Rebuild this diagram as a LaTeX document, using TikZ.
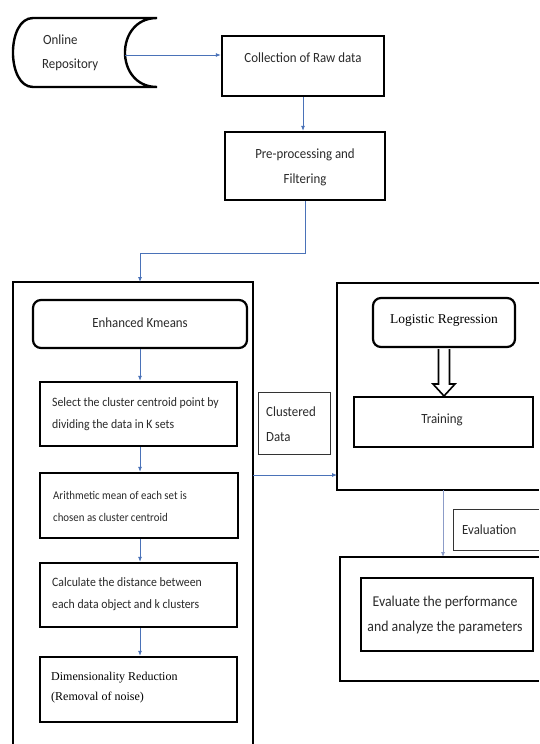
\documentclass[tikz,border=0pt]{standalone}
\usepackage{fontspec}
\setmainfont{Carlito}[FakeStretch=0.92]
\newfontfamily\timesf{Liberation Serif}
\usetikzlibrary{arrows.meta}
\definecolor{conblue}{HTML}{4A72B8}
\definecolor{conlight}{HTML}{8C9CC8}
\definecolor{txt}{HTML}{2A2A2A}
\begin{document}
\begin{tikzpicture}[x=1pt,y=-1pt,
  box/.style={draw=black, line width=2.4pt, rectangle, inner sep=0pt},
  rbox/.style={draw=black, line width=2.2pt, rectangle, rounded corners=8pt, inner sep=0pt},
  thinbox/.style={draw=black!80, line width=0.9pt, rectangle, inner sep=0pt},
  frame/.style={draw=black, line width=2.4pt},
  conn/.style={draw=conblue, line width=0.8pt, -{Latex[length=5pt,width=4pt]}},
  lbl/.style={text=txt, inner sep=0pt, font=\fontsize{14}{22}\selectfont},
  slbl/.style={text=txt, inner sep=0pt, anchor=west, align=left, font=\fontsize{12.8}{22}\selectfont},
  tlbl/.style={text=txt, inner sep=0pt, font=\timesf\fontsize{13.5}{20}\selectfont}
]
\useasboundingbox[fill=white] (0,0) rectangle (539,744);

% Online repository (stored data symbol)
\draw[line width=2.4pt] (33,18) -- (157,18) .. controls (114.3,18) and (114.3,87) .. (157,87)
  -- (33,87) .. controls (6.3,87) and (6.3,18) .. (33,18) -- cycle;
\coordinate (repoR) at (125,55);
\node[lbl, anchor=west] (online) at (43,40) {Online};
\node[lbl, anchor=west] (repo) at (42,65) {Repository};

% Collection of raw data
\node[box, minimum width=162, minimum height=60] (coll) at (303,66) {};
\node[lbl] (colltxt) at (303,58) {Collection of Raw data};
\draw[conn] (repoR) -- (repoR -| coll.west);

% Pre-processing
\node[box, minimum width=160, minimum height=68] (pre) at (305,166) {};
\node[lbl, align=center, font=\fontsize{14}{25}\selectfont] (pretxt) at (305,167.5) {Pre-processing and\\Filtering};
\draw[conn] (coll.south) -- (coll.south |- pre.north);

% Left big frame
\draw[frame] (13,744) -- (13,282) -- (253,282) -- (253,744);
\coordinate (lbtop) at (140,282);
\coordinate (bend) at (140,253);
\draw[conn] (pre.south) |- (bend) -- (lbtop);

% Enhanced Kmeans
\node[rbox, minimum width=214, minimum height=48] (ekm) at (140,324) {};
\node[lbl] (ekmtxt) at (140,323) {Enhanced Kmeans};

\node[box, minimum width=197, minimum height=64] (sel) at (138.5,414) {};
\node[slbl] (seltxt) at (52,414) {Select the cluster centroid point by\\dividing the data in K sets};
\draw[conn] (ekm.south) -- (ekm.south |- sel.north);

\node[box, minimum width=198, minimum height=65] (ari) at (139,505.5) {};
\node[slbl, font=\fontsize{11.8}{22}\selectfont] (aritxt) at (53,506) {Arithmetic mean of each set is\\chosen as cluster centroid};
\draw[conn] (sel.south -| ekm.south) -- (ari.north -| ekm.south);

\node[box, minimum width=197, minimum height=64] (calc) at (138.5,595) {};
\node[slbl] (calctxt) at (52,594) {Calculate the distance between\\each data object and k clusters};
\draw[conn] (ari.south -| ekm.south) -- (calc.north -| ekm.south);

\node[box, minimum width=197, minimum height=65] (dim) at (138.5,689.5) {};
\node[tlbl, anchor=west, align=left, text=black, font=\timesf\fontsize{12}{20}\selectfont] (dimtxt) at (51,688) {Dimensionality Reduction\\(Removal of noise)};
\draw[conn] (calc.south -| ekm.south) -- (dim.north -| ekm.south);

% Clustered data
\node[thinbox, minimum width=72, minimum height=62] (clu) at (294,423) {};
\node[lbl, anchor=west, align=left, font=\fontsize{14}{25}\selectfont] (clutxt) at (266,424.5) {Clustered\\Data};

% Right big frame
\draw[frame] (539,283) -- (337,283) -- (337,490) -- (539,490);
\coordinate (cl) at (253,475);
\coordinate (cr) at (337,475);
\draw[conn] (cl) -- (cr);

\node[rbox, minimum width=142, minimum height=49] (lr) at (444,322.5) {};
\node[tlbl, text=black] (lrtxt) at (444,320) {Logistic Regression};

\node[box, minimum width=179, minimum height=50] (train) at (443.5,422) {};
\node[lbl] (traintxt) at (442,420) {Training};

% hollow block arrow
\draw[line width=1.6pt, line join=miter] (438.5,349) -- (438.5,384) -- (433,384) -- (444,396) -- (455,384) -- (449.5,384) -- (449.5,349);

% Evaluation
\coordinate (rbot) at (443,490);
\coordinate (ebtop) at (443,557);
\draw[conn, draw=conlight] (rbot) -- (ebtop);
\draw[draw=black!80, line width=0.9pt] (539,509) -- (453,509) -- (453,550) -- (539,550);
\node[lbl, anchor=west] (evtxt) at (462,530) {Evaluation};

\draw[frame] (539,557) -- (340,557) -- (340,681) -- (539,681);
\node[box, minimum width=172, minimum height=73] (evb) at (447,614.5) {};
\node[lbl, align=center, font=\fontsize{15}{25}\selectfont] (evbtxt) at (445,614.5) {Evaluate the performance\\and analyze the parameters};
\end{tikzpicture}
\end{document}
